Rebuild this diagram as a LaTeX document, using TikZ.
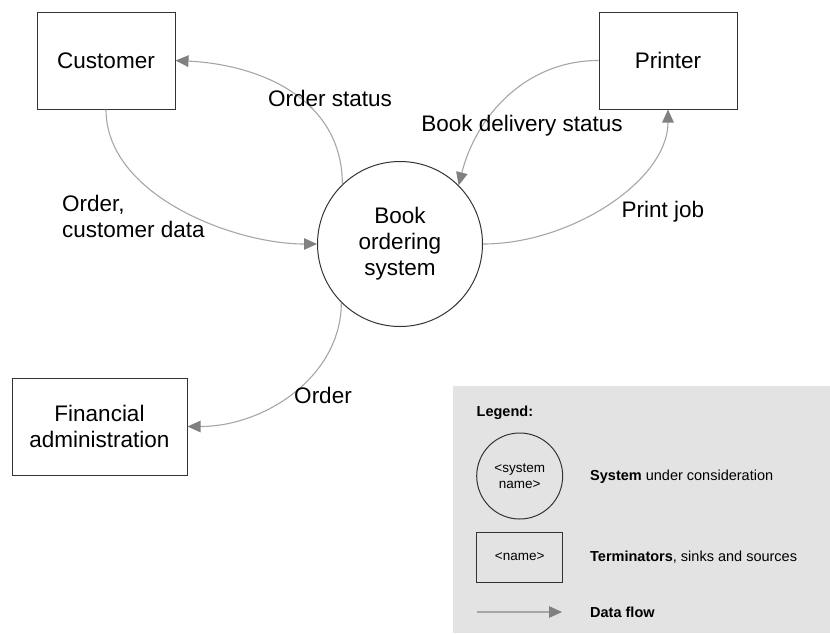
\documentclass[tikz,border=0pt]{standalone}
\usepackage{fontspec}
\setmainfont{Liberation Sans}
\usetikzlibrary{arrows.meta}
\definecolor{flowline}{HTML}{A6A6A6}
\definecolor{flowtip}{HTML}{808080}
\definecolor{legendbg}{HTML}{E3E3E3}
\definecolor{boxline}{HTML}{333333}
\tikzset{
  bigfont/.style={font=\fontsize{22.5}{26}\selectfont},
  smallfont/.style={font=\fontsize{14.5}{16}\selectfont},
  termbox/.style={draw=boxline, line width=1pt, minimum width=138pt, minimum height=97pt, inner sep=0pt, align=center, bigfont},
  sysnode/.style={draw=boxline, line width=1pt, circle, minimum size=165pt, inner sep=0pt, align=center, bigfont},
  flow/.style={draw=flowline, line width=1.1pt, -{Triangle[length=13pt,width=11.5pt,color=flowtip]}},
  flowlabel/.style={bigfont, inner sep=0pt, align=left},
}
\begin{document}
\begin{tikzpicture}[x=1pt,y=-1pt]
\useasboundingbox (0,0) rectangle (830,633);
% legend background
\fill[legendbg] (453,386) rectangle (830,633);
% main nodes
\node[termbox] (cust) at (106,60.5) {Customer};
\node[termbox] (printer) at (668,60.5) {Printer};
\node[termbox, minimum width=175pt] (fin) at (99.5,426.5) {Financial\\administration};
\node[sysnode] (sys) at (400,244) {Book\\ordering\\system};
% flows
\draw[flow] (sys.134) .. controls +(0,-85) and +(85,4) .. (cust.east);
\draw[flow] (cust.south) .. controls +(0,86) and +(-83,0) .. (sys.west);
\draw[flow] (printer.west) .. controls +(-74,0) and +(17,-68) .. (sys.45);
\draw[flow] (sys.east) .. controls +(88,0) and +(0,71) .. (printer.south);
\draw[flow] (sys.225) .. controls +(0,73) and +(78,0) .. (fin.east);
% flow labels
\node[flowlabel] (lOS) at (330,98) {Order status};
\node[flowlabel, anchor=west] (lOC) at (62,216.5) {Order,\\customer data};
\node[flowlabel] (lBD) at (522,126) {Book delivery status};
\node[flowlabel] (lPJ) at (663,212) {Print job};
\node[flowlabel] (lOF) at (323,395) {Order};
% legend
\node[smallfont, anchor=west, inner sep=0pt] (lgT) at (476.5,413) {\textbf{Legend:}};
\node[draw=boxline, line width=1pt, circle, minimum size=86pt, inner sep=0pt, align=center, font=\fontsize{13.5}{16}\selectfont] (lgC) at (519.7,476) {<system\\name>};
\node[draw=boxline, line width=1pt, minimum width=86pt, minimum height=50pt, inner sep=0pt, font=\fontsize{13.5}{16}\selectfont] (lgR) at (519.7,557) {<name>};
\coordinate (lgA) at (477,612);
\coordinate (lgB) at (562,612);
\draw[flow] (lgA) -- (lgB);
\node[smallfont, anchor=west, inner sep=0pt] (lgS) at (590,477) {\textbf{System} under consideration};
\node[smallfont, anchor=west, inner sep=0pt] (lgTe) at (590,557) {\textbf{Terminators}, sinks and sources};
\node[smallfont, anchor=west, inner sep=0pt] (lgD) at (590,612) {\textbf{Data flow}};
\end{tikzpicture}
\end{document}
